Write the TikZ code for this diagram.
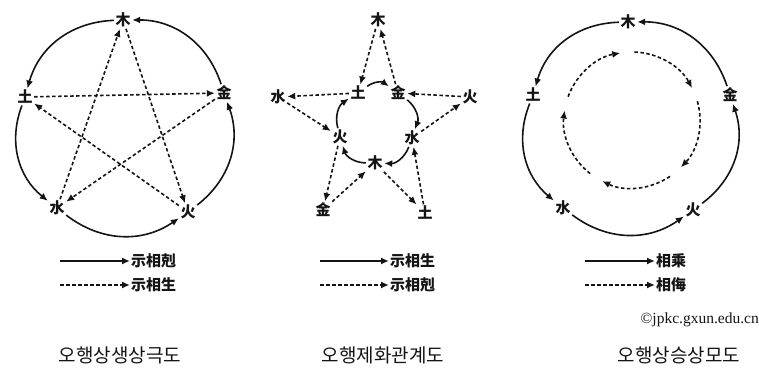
\documentclass[tikz,border=0pt]{standalone}
\usepackage{fontspec}
\setmainfont{Liberation Serif}
\newfontfamily\cjk{Noto Sans CJK SC}
\newfontfamily\kor{Noto Sans CJK KR}
\usepackage{xcolor}
\usetikzlibrary{arrows.meta,calc}
\definecolor{inkblack}{RGB}{20,20,20}
\tikzset{
  elem/.style={font=\cjk\bfseries\fontsize{15}{15}\selectfont,
    text=inkblack,inner sep=1.5pt},
  flow/.style={-{Latex[length=8pt,width=7pt]},line width=1.6pt,draw=inkblack},
  dashflow/.style={flow,dash pattern=on 3.5pt off 2.5pt},
  keytext/.style={font=\cjk\bfseries\fontsize{15}{15}\selectfont,
    text=inkblack,anchor=west,inner sep=1pt},
  titletext/.style={font=\kor\fontsize{19}{19}\selectfont,text=inkblack},
  credit/.style={font=\fontsize{15.5}{15.5}\selectfont,text=inkblack,
    anchor=east,inner sep=0pt}
}

\begin{document}
\begin{tikzpicture}[x=1pt,y=1pt]
  \useasboundingbox[fill=white] (0,0) rectangle (759,372);

  % left: sheng ke
  \node[elem] (lmu) at (123,352) {木};
  \node[elem] (ljin) at (224,279) {金};
  \node[elem] (ltu) at (25,275) {土};
  \node[elem] (lshui) at (57,164) {水};
  \node[elem] (lhuo) at (188,160) {火};
  \draw[flow] (lmu) to[bend right=36] (ltu);
  \draw[flow] (ltu) to[bend right=36] (lshui);
  \draw[flow] (lshui) to[bend right=36] (lhuo);
  \draw[flow] (lhuo) to[bend right=36] (ljin);
  \draw[flow] (ljin) to[bend right=36] (lmu);
  \draw[dashflow] (lmu) -- (lhuo);
  \draw[dashflow] (lhuo) -- (ltu);
  \draw[dashflow] (ltu) -- (ljin);
  \draw[dashflow] (ljin) -- (lshui);
  \draw[dashflow] (lshui) -- (lmu);

  % middle: zhi hua
  \node[elem] (mmu) at (378,352) {木};
  \node[elem] (mshui) at (278,275) {水};
  \node[elem] (mhuo) at (470,275) {火};
  \node[elem] (mjin) at (323,162) {金};
  \node[elem] (mtu) at (425,159) {土};
  \node[elem] (itu) at (358,279) {土};
  \node[elem] (ijin) at (398,279) {金};
  \node[elem] (ishui) at (412,234) {水};
  \node[elem] (imu) at (375,209) {木};
  \node[elem] (ihuo) at (340,235) {火};
  \draw[flow] (itu) to[bend left=36] (ijin);
  \draw[flow] (ijin) to[bend left=36] (ishui);
  \draw[flow] (ishui) to[bend left=36] (imu);
  \draw[flow] (imu) to[bend left=36] (ihuo);
  \draw[flow] (ihuo) to[bend left=36] (itu);
  \draw[dashflow] (mmu) -- (itu);
  \draw[dashflow] (ijin) -- (mmu);
  \draw[dashflow] (itu) -- (mshui);
  \draw[dashflow] (mshui) -- (ihuo);
  \draw[dashflow] (mhuo) -- (ijin);
  \draw[dashflow] (ishui) -- (mhuo);
  \draw[dashflow] (ihuo) -- (mjin);
  \draw[dashflow] (mjin) -- (imu);
  \draw[dashflow] (imu) -- (mtu);
  \draw[dashflow] (mtu) -- (ishui);

  % right: cheng wu
  \node[elem] (rmu) at (628,350) {木};
  \node[elem] (rjin) at (730,277) {金};
  \node[elem] (rtu) at (533,277) {土};
  \node[elem] (rshui) at (563,164) {水};
  \node[elem] (rhuo) at (693,162) {火};
  \draw[flow] (rmu) to[bend right=36] (rtu);
  \draw[flow] (rtu) to[bend right=36] (rshui);
  \draw[flow] (rshui) to[bend right=36] (rhuo);
  \draw[flow] (rhuo) to[bend right=36] (rjin);
  \draw[flow] (rjin) to[bend right=36] (rmu);
  \coordinate (rc) at (632,252);
  \foreach \a in {160,88,16,-56,-128}
    \draw[dashflow] ($(rc)+(\a:68)$) arc[start angle=\a,end angle=\a-60,radius=68];

  % keys
  \coordinate (lk1) at (60,111);
  \node[keytext] (lkt1) at (130,111) {示相剋};
  \coordinate (lk2) at (60,87);
  \node[keytext] (lkt2) at (130,87) {示相生};
  \draw[flow] (lk1) -- (lkt1.west);
  \draw[dashflow] (lk2) -- (lkt2.west);
  \coordinate (mk1) at (320,111);
  \node[keytext] (mkt1) at (389,111) {示相生};
  \coordinate (mk2) at (320,87);
  \node[keytext] (mkt2) at (389,87) {示相剋};
  \draw[flow] (mk1) -- (mkt1.west);
  \draw[dashflow] (mk2) -- (mkt2.west);
  \coordinate (rk1) at (585,111);
  \node[keytext] (rkt1) at (655,111) {相乘};
  \coordinate (rk2) at (585,87);
  \node[keytext] (rkt2) at (655,87) {相侮};
  \draw[flow] (rk1) -- (rkt1.west);
  \draw[dashflow] (rk2) -- (rkt2.west);

  \node[credit] (src) at (759,52) {©jpkc.gxun.edu.cn};

  \node[titletext] (lt) at (120,17) {오행상생상극도};
  \node[titletext] (mt) at (383,17) {오행제화관계도};
  \node[titletext] (rt) at (679,17) {오행상승상모도};
\end{tikzpicture}
\end{document}
